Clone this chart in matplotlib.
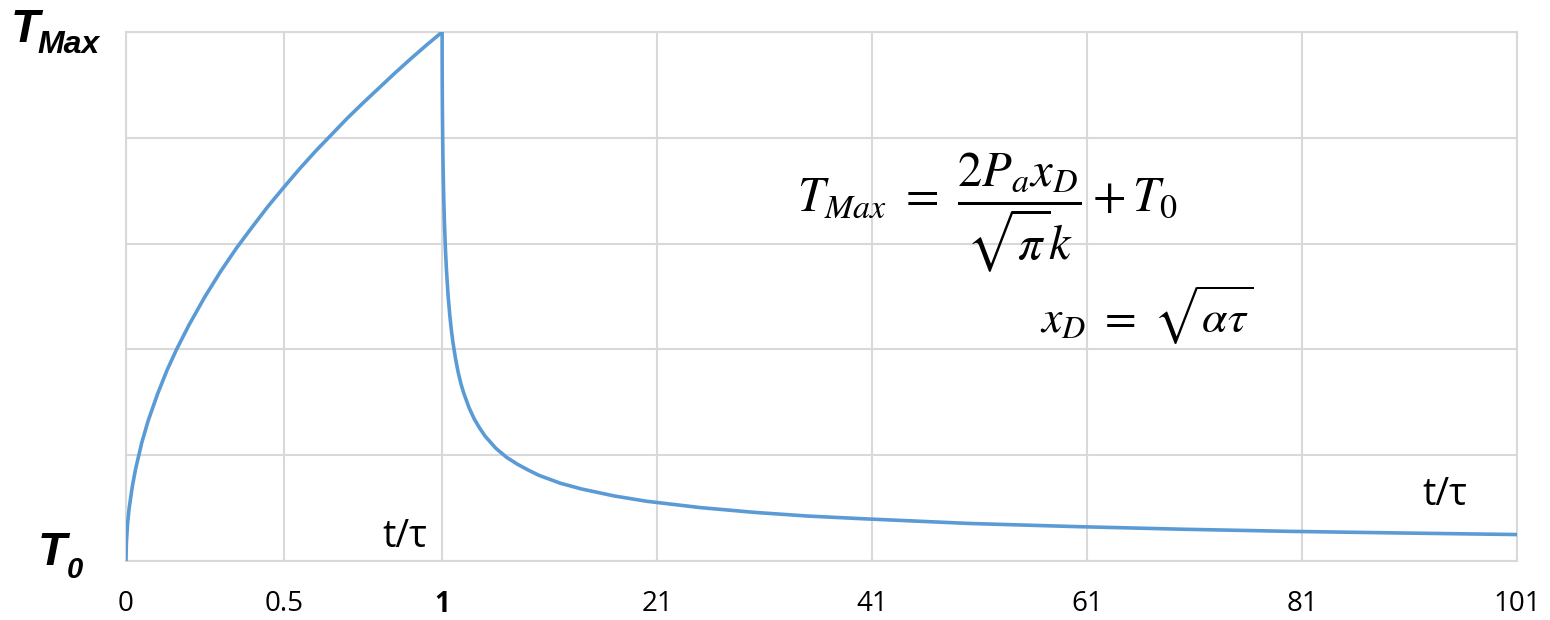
import numpy as np
import matplotlib
matplotlib.use("Agg")
import matplotlib.pyplot as plt

plt.rcParams['font.family'] = ['Open Sans', 'DejaVu Sans']
plt.rcParams['mathtext.fontset'] = 'stix'

# t/tau and normalised temperature (T - T0)/(TMax - T0)
t_heat = [0, 0.001, 0.005, 0.01, 0.02, 0.03, 0.05, 0.07, 0.1, 0.13, 0.16, 0.2,
          0.25, 0.3, 0.35, 0.4, 0.45, 0.5, 0.55, 0.6, 0.65, 0.7, 0.75, 0.8,
          0.85, 0.9, 0.95, 1.0]
T_heat = [0, 0.032, 0.071, 0.10, 0.141, 0.173, 0.224, 0.265, 0.316, 0.361,
          0.40, 0.447, 0.50, 0.548, 0.592, 0.632, 0.671, 0.707, 0.742, 0.775,
          0.806, 0.837, 0.866, 0.894, 0.922, 0.949, 0.975, 1.0]
t_cool = [1.0, 1.001, 1.005, 1.01, 1.02, 1.03, 1.05, 1.07, 1.1, 1.15, 1.2, 1.3,
          1.4, 1.55, 1.7, 1.85, 2, 2.25, 2.5, 2.75, 3, 3.5, 4, 4.5, 5, 6, 7, 8,
          9, 10, 12, 14, 17, 20, 25, 30, 35, 40, 50, 60, 70, 80, 90, 101]
T_cool = [1.0, 0.969, 0.932, 0.905, 0.868, 0.842, 0.801, 0.770, 0.733, 0.685,
          0.648, 0.592, 0.551, 0.503, 0.467, 0.438, 0.414, 0.382, 0.356, 0.335,
          0.318, 0.290, 0.268, 0.251, 0.236, 0.213, 0.196, 0.183, 0.172, 0.162,
          0.147, 0.136, 0.123, 0.113, 0.101, 0.092, 0.085, 0.080, 0.071, 0.065,
          0.060, 0.056, 0.053, 0.050]

x_ticks = [0, 0.5, 1, 21, 41, 61, 81, 101]
x_labels = ['0', '0.5', '1', '21', '41', '61', '81', '101']

t_all = t_heat + t_cool[1:]
T_all = T_heat + T_cool[1:]

k = 0.034  # width of the 1..101 part per unit t, relative to the 0..1 part


def fwd(t):
    t = np.asarray(t, dtype=float)
    return np.where(t <= 1, t, 1 + (t - 1) * k)


def inv(u):
    u = np.asarray(u, dtype=float)
    return np.where(u <= 1, u, 1 + (u - 1) / k)


W, H = 1550, 620
L, R, TOP, BOT = 126, 1517, 32, 561


def ax_xy(px, py):
    return (px - L) / (R - L), (BOT - py) / (BOT - TOP)


fig = plt.figure(figsize=(15.5, 6.2), dpi=100)
ax = fig.add_axes([L / W, (H - BOT) / H, (R - L) / W, (BOT - TOP) / H])
ax.set_xscale('function', functions=(fwd, inv))
ax.plot(t_all, T_all, color='#5B9BD5', lw=2.6, zorder=3)

ax.set_xlim(0, 101)
ax.set_ylim(0, 1)
ax.set_xticks(x_ticks)
ax.set_xticklabels(x_labels, fontsize=20)
ax.get_xticklabels()[2].set_fontweight('bold')
ax.set_yticks([0, 0.2, 0.4, 0.6, 0.8, 1.0])
ax.set_yticklabels([])
ax.tick_params(length=0, pad=21)
ax.grid(True, color='#D9D9D9', lw=1.5)
for s in ax.spines.values():
    s.set_color('#D9D9D9')
    s.set_linewidth(1.5)

# y end labels
lab = dict(family='Liberation Sans', fontweight='bold', fontstyle='italic',
           ha='left', va='baseline')
fig.text(11 / W, 1 - 42 / H, 'T', fontsize=34, **lab)
fig.text(37 / W, 1 - 53 / H, 'Max', fontsize=23, **lab)
fig.text(38 / W, 1 - 565 / H, 'T', fontsize=34, **lab)
fig.text(67 / W, 1 - 578 / H, '0', fontsize=21, **lab)

x, y = ax_xy(427, 547)
ax.text(x, y, 't/τ', transform=ax.transAxes, ha='right', va='baseline', fontsize=27)
x, y = ax_xy(1467, 505)
ax.text(x, y, 't/τ', transform=ax.transAxes, ha='right', va='baseline', fontsize=27)

x, y = ax_xy(797, 212)
ax.text(x, y, r'$T_{Max}\ =\ \dfrac{2P_a x_D}{\sqrt{\pi}k}+T_0$', transform=ax.transAxes,
        ha='left', va='baseline', fontsize=35)
x, y = ax_xy(1040, 333)
ax.text(x, y, r'$x_D\ =\ \sqrt{\alpha\tau}$', transform=ax.transAxes,
        ha='left', va='baseline', fontsize=33)

fig.savefig('out.png', dpi=100)
